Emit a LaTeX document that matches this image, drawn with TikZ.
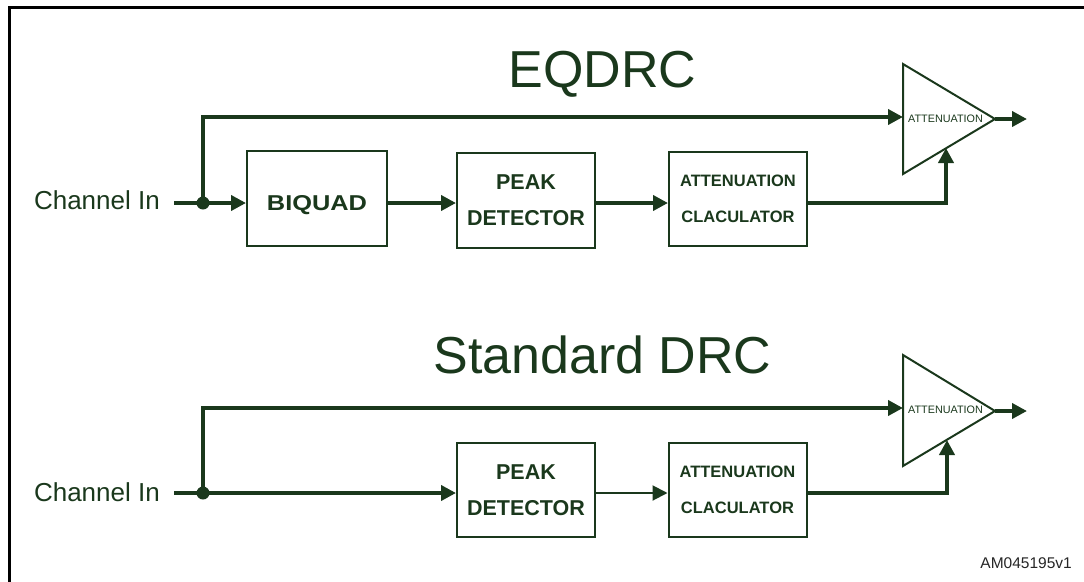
\documentclass[tikz,border=0pt]{standalone}
\usepackage{fontspec}
\setmainfont{Liberation Sans}
\usetikzlibrary{arrows.meta,calc}
\definecolor{dg}{HTML}{1A381C}
\begin{document}
\begin{tikzpicture}[x=1pt,y=-1pt,
  frame/.style={draw=black,line width=3pt},
  conn/.style={draw=dg,line width=4pt},
  arr/.style={conn,-{Triangle[length=15pt,width=15pt]}},
  thinarr/.style={draw=dg,line width=2pt,-{Triangle[length=15pt,width=15pt]}},
  box/.style={draw=dg,line width=2pt,minimum width=138pt,minimum height=94pt,inner sep=0pt,text=dg,align=center},
  bigtxt/.style={font=\bfseries\fontsize{21.5}{36}\selectfont},
  smalltxt/.style={font=\bfseries\fontsize{16.5}{36}\selectfont},
  tri/.style={draw=dg,line width=2pt,line join=miter},
  trilbl/.style={text=dg,inner sep=0pt,font=\fontsize{10.8}{12}\selectfont},
  lbl/.style={text=dg,inner sep=0pt,font=\fontsize{26}{30}\selectfont},
  title/.style={text=dg,inner sep=0pt,font=\fontsize{52}{60}\selectfont},
  dot/.style={circle,fill=dg,inner sep=0pt,minimum size=13pt}]
\useasboundingbox (0,0) rectangle (1084,581);
% frame
\draw[frame] (9.5,590) -- (9.5,7.5) -- (1090,7.5);
% ---------------- EQDRC ----------------
\node[title,anchor=base] (t1) at (602.5,87) {EQDRC};
\node[lbl,anchor=base east] (cin1) at (160,209) {Channel In};
\coordinate (s1) at (174,203);
\node[dot] (j1) at (203,203) {};
\node[box,bigtxt,minimum width=140pt,minimum height=95pt,text height=23pt,text depth=0pt] (biq) at (317,198.5) {\scalebox{1.18}[1]{BIQUAD}};
\node[box,bigtxt,minimum height=95pt] (pk1) at (526,200.5) {PEAK\\DETECTOR};
\node[box,smalltxt] (at1) at (738,199) {ATTENUATION\\CLACULATOR};
\coordinate (a1top) at (903,64);
\coordinate (a1tip) at (995,119);
\coordinate (a1bot) at (903,174);
\draw[tri] (a1top) -- (a1tip) -- (a1bot) -- cycle;
\node[trilbl] (a1) at (945.5,119) {ATTENUATION};
\coordinate (a1in) at (903,117);
\coordinate (a1ctl) at (946,148);
\coordinate (a1out) at (1027,119);
\draw[conn] (s1) -- (j1.center);
\draw[arr] (j1.center) -- (biq.west |- j1);
\draw[arr] (j1.center) |- (a1in);
\draw[arr] (biq.east |- j1) -- (pk1.west |- j1);
\draw[arr] (pk1.east |- j1) -- (at1.west |- j1);
\draw[arr] (at1.east |- j1) -| (a1ctl);
\draw[arr] (a1tip) -- (a1out);
% ---------------- Standard DRC ----------------
\node[title,anchor=base] (t2) at (602.5,373) {Standard DRC};
\node[lbl,anchor=base east] (cin2) at (160,501) {Channel In};
\coordinate (s2) at (174,493);
\node[dot] (j2) at (203,493) {};
\node[box,bigtxt] (pk2) at (526,490) {PEAK\\DETECTOR};
\node[box,smalltxt] (at2) at (737.5,490) {ATTENUATION\\CLACULATOR};
\coordinate (a2top) at (903,355);
\coordinate (a2tip) at (995,411);
\coordinate (a2bot) at (903,466);
\draw[tri] (a2top) -- (a2tip) -- (a2bot) -- cycle;
\node[trilbl] (a2) at (945.5,410) {ATTENUATION};
\coordinate (a2in) at (903,408);
\coordinate (a2ctl) at (947,440);
\coordinate (a2out) at (1027,411);
\draw[conn] (s2) -- (j2.center);
\draw[arr] (j2.center) -- (pk2.west |- j2);
\draw[arr] (j2.center) |- (a2in);
\draw[thinarr] (pk2.east |- j2) -- (at2.west |- j2);
\draw[arr] (at2.east |- j2) -| (a2ctl);
\draw[arr] (a2tip) -- (a2out);
% id
\node[anchor=base east,inner sep=0pt,font=\fontsize{15.5}{18}\selectfont,text=black!85] (id) at (1072,568) {AM045195v1};
\end{tikzpicture}
\end{document}
